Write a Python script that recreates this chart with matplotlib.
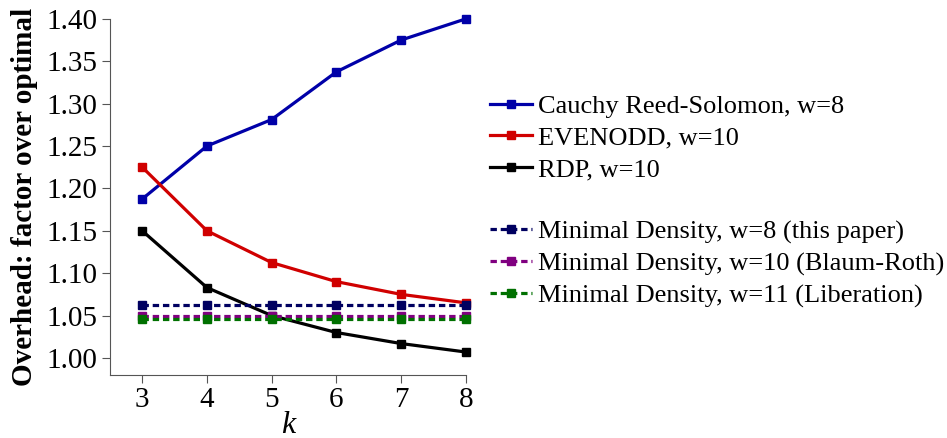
import matplotlib.pyplot as plt
from matplotlib.lines import Line2D

plt.rcParams['font.family'] = ['Liberation Serif', 'DejaVu Serif']

k = [3, 4, 5, 6, 7, 8]
cauchy = [1.1875, 1.25, 1.28125, 1.3375, 1.375, 1.40]
evenodd = [1.225, 1.15, 1.1125, 1.09, 1.075, 1.065]
rdp = [1.15, 1.083, 1.05, 1.03, 1.017, 1.007]
md_w8 = [1.0625] * 6
md_w10 = [1.05] * 6
md_w11 = [1.0455] * 6

fig = plt.figure(figsize=(9.47, 4.38), dpi=100)
ax = fig.add_axes([0.116, 0.144, 0.376, 0.813])

solid = [(cauchy, '#0000a8', 'Cauchy Reed-Solomon, w=8'),
         (evenodd, '#d00000', 'EVENODD, w=10'),
         (rdp, 'black', 'RDP, w=10')]
dashed = [(md_w8, '#000060', 'Minimal Density, w=8 (this paper)'),
          (md_w10, '#800080', 'Minimal Density, w=10 (Blaum-Roth)'),
          (md_w11, '#007000', 'Minimal Density, w=11 (Liberation)')]

handles = []
for ys, c, lab in solid:
    h, = ax.plot(k, ys, '-', color=c, lw=2.3, marker='s', ms=6, label=lab, clip_on=False)
    handles.append(h)
# blank row in legend
handles.append(Line2D([], [], color='none', label=' '))
for ys, c, lab in dashed:
    h, = ax.plot(k, ys, '--', color=c, lw=2.3, marker='s', ms=6, label=lab,
                 dashes=(2, 1.2), clip_on=False)
    handles.append(h)

ax.set_xlim(2.5, 8)
ax.set_ylim(0.98, 1.40)
ax.set_xticks(k)
ax.set_yticks([1.00, 1.05, 1.10, 1.15, 1.20, 1.25, 1.30, 1.35, 1.40])
ax.yaxis.set_major_formatter(plt.FormatStrFormatter('%.2f'))
ax.spines['top'].set_visible(False)
ax.spines['right'].set_visible(False)
for s in ['left', 'bottom']:
    ax.spines[s].set_color('#555555')
ax.tick_params(direction='out', length=6, color='#555555', labelsize=21, pad=3)
ax.set_xlabel('k', fontsize=23, style='italic', labelpad=-2)
ax.set_ylabel('Overhead: factor over optimal', fontsize=21, fontweight='bold', labelpad=6)

fig.legend(handles=handles, labels=[h.get_label() for h in handles],
           loc='upper left', bbox_to_anchor=(0.492, 0.838), frameon=False,
           fontsize=19, handlelength=1.6, handletextpad=0.25, labelspacing=0.3)

fig.savefig('out.png', dpi=100)
